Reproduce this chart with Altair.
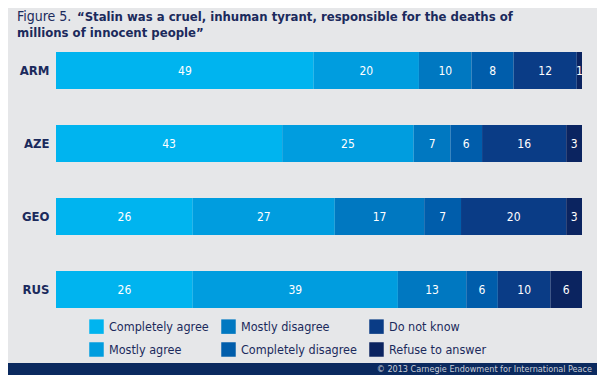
import altair as alt
import pandas as pd

countries = ["ARM", "AZE", "GEO", "RUS"]
answers = ["Completely agree", "Mostly agree", "Mostly disagree",
           "Completely disagree", "Do not know", "Refuse to answer"]
completely_agree = [49, 43, 26, 26]
mostly_agree = [20, 25, 27, 39]
mostly_disagree = [10, 7, 17, 13]
completely_disagree = [8, 6, 7, 6]
do_not_know = [12, 16, 20, 10]
refuse = [1, 3, 3, 6]
colors = ["#00b4ef", "#009ddf", "#0078c1", "#005dab", "#0a3c86", "#0b2460"]

series = [completely_agree, mostly_agree, mostly_disagree,
          completely_disagree, do_not_know, refuse]
rows = []
for ai, (a, vals) in enumerate(zip(answers, series)):
    for c, v in zip(countries, vals):
        rows.append({"country": c, "answer": a, "value": v, "ord": ai})
df = pd.DataFrame(rows)

NAVY = "#1b2a5c"
FONT = "'DejaVu Sans Condensed', 'DejaVu Sans', sans-serif"

color_scale = alt.Scale(domain=answers, range=colors)

y_enc = alt.Y("country:N", sort=countries,
              scale=alt.Scale(paddingInner=0.49, paddingOuter=0.245),
              axis=alt.Axis(title=None, domain=False, ticks=False, grid=False,
                            labelFont=FONT, labelFontWeight="bold", labelFontSize=13,
                            labelColor=NAVY, labelPadding=7))

bars = alt.Chart(df).mark_bar(size=37).encode(
    x=alt.X("sum(value):Q", stack="zero",
            scale=alt.Scale(domain=[0, 100], nice=False),
            axis=None),
    y=y_enc,
    color=alt.Color("answer:N", scale=color_scale,
                    legend=alt.Legend(title=None, orient="none", legendX=33, legendY=285,
                                      columns=3, columnPadding=12, rowPadding=8,
                                      symbolType="square", symbolSize=210,
                                      symbolStrokeWidth=0, symbolOpacity=1,
                                      labelFont=FONT, labelFontSize=12.5, labelColor=NAVY,
                                      labelOffset=5, labelLimit=200)),
    order=alt.Order("ord:Q", sort="ascending"),
)

labels = alt.Chart(df).transform_stack(
    stack="value", groupby=["country"], as_=["v0", "v1"],
    sort=[alt.SortField("ord", order="ascending")]
).transform_calculate(mid="(datum.v0 + datum.v1) / 2").mark_text(
    font=FONT, fontSize=12, color="white", baseline="middle", align="center"
).encode(
    x=alt.X("mid:Q"),
    y=alt.Y("country:N", sort=countries),
    text=alt.Text("value:Q"),
)

title1 = alt.Chart(pd.DataFrame({"t": ["Figure 5."]})).mark_text(
    font=FONT, fontSize=14, color=NAVY, align="left", baseline="alphabetic"
).encode(x=alt.value(-39), y=alt.value(-13), text="t:N")

title2 = alt.Chart(pd.DataFrame({"t": ["\u201cStalin was a cruel, inhuman tyrant, responsible for the deaths of"]})).mark_text(
    font=FONT, fontSize=13, fontWeight="bold", color=NAVY, align="left", baseline="alphabetic"
).encode(x=alt.value(21), y=alt.value(-13), text="t:N")

title3 = alt.Chart(pd.DataFrame({"t": ["millions of innocent people\u201d"]})).mark_text(
    font=FONT, fontSize=13, fontWeight="bold", color=NAVY, align="left", baseline="alphabetic"
).encode(x=alt.value(-39), y=alt.value(3), text="t:N")

footer = alt.Chart(pd.DataFrame({"t": [0]})).mark_rect(color="#0b2a5f").encode(
    x=alt.value(-60), x2=alt.value(560), y=alt.value(329), y2=alt.value(350)
)
footer_text = alt.Chart(pd.DataFrame({"t": ["\u00a9 2013 Carnegie Endowment for International Peace"]})).mark_text(
    font=FONT, fontSize=9, color="#c9ccd6", align="right", baseline="middle"
).encode(x=alt.value(536), y=alt.value(335), text="t:N")

chart = alt.layer(bars, labels, title1, title2, title3, footer, footer_text).properties(
    width=526, height=292,
    autosize=alt.AutoSizeParams(type="none"),
    padding={"left": 48, "top": 26, "right": 15, "bottom": 49},
    background="#e6e7e9",
).configure_view(stroke=None)

chart.save("out.html", embed_options={"renderer": "svg", "actions": False})
